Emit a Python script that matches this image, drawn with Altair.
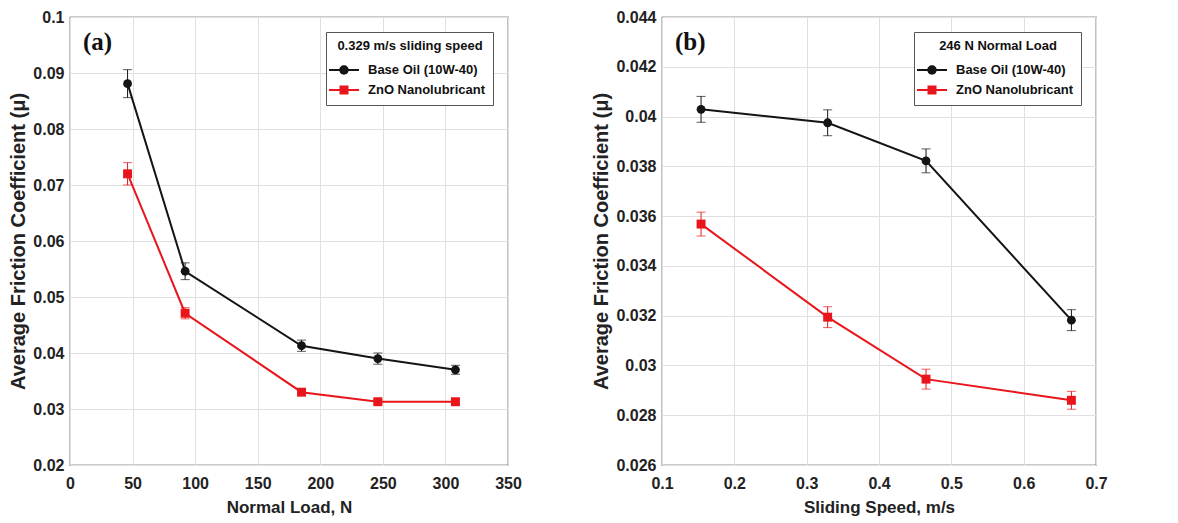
import altair as alt
import pandas as pd

series = ["Base Oil (10W-40)", "ZnO Nanolubricant"]
colors = ["#141414", "#e8161c"]
shapes = ["circle", "square"]
marker_sizes = [78, 80]

# Panel (a)
load_n = [46, 92, 185, 246, 308]
a_base = [0.0881, 0.0546, 0.0413, 0.0390, 0.0370]
a_base_err = [0.0025, 0.0015, 0.0010, 0.0010, 0.0008]
a_zno = [0.0720, 0.0471, 0.0330, 0.0313, 0.0313]
a_zno_err = [0.0020, 0.0010, 0.0005, 0.0004, 0.0004]

# Panel (b)
speed = [0.154, 0.329, 0.465, 0.666]
b_base = [0.04029, 0.03975, 0.03822, 0.03182]
b_base_err = [0.00052, 0.00052, 0.00048, 0.00042]
b_zno = [0.03568, 0.03194, 0.02945, 0.02860]
b_zno_err = [0.00048, 0.00042, 0.00040, 0.00036]

a_xticks = [0, 50, 100, 150, 200, 250, 300, 350]
a_yticks = [0.02, 0.03, 0.04, 0.05, 0.06, 0.07, 0.08, 0.09, 0.1]
b_xticks = [0.1, 0.2, 0.3, 0.4, 0.5, 0.6, 0.7]
b_yticks = [0.026, 0.028, 0.03, 0.032, 0.034, 0.036, 0.038, 0.04, 0.042, 0.044]


def make_df(xs, base, base_err, zno, zno_err):
    rows = []
    for x, v, e in zip(xs, base, base_err):
        rows.append({"x": x, "y": v, "lo": v - e, "hi": v + e, "series": series[0]})
    for x, v, e in zip(xs, zno, zno_err):
        rows.append({"x": x, "y": v, "lo": v - e, "hi": v + e, "series": series[1]})
    return pd.DataFrame(rows)


# legend glyphs: line segment with the series marker in the middle
circle_path = ("M-1.5,-0.1H-0.45V0.1H-1.5Z M0.45,-0.1H1.5V0.1H0.45Z "
               "M0.47,0A0.47,0.47,0,1,1,-0.47,0A0.47,0.47,0,1,1,0.47,0Z")
square_path = ("M-1.5,-0.1H-0.44V0.1H-1.5Z M0.44,-0.1H1.5V0.1H0.44Z "
               "M-0.45,-0.45H0.45V0.45H-0.45Z")

FONT = "Liberation Sans"
YTITLE = "Average Friction Coefficient (μ)"


def panel(df, xticks, yticks, xdom, ydom, xtitle, xfmt, label, legend_title, w):
    xenc = alt.X("x:Q", scale=alt.Scale(domain=xdom, nice=False),
                 axis=alt.Axis(values=xticks, title=xtitle, format=xfmt))
    yenc = alt.Y("y:Q", scale=alt.Scale(domain=ydom, nice=False, zero=False),
                 axis=alt.Axis(values=yticks, title=YTITLE, format="~g"))
    base = alt.Chart(df)
    layers = []
    for s, c, sh, sz in zip(series, colors, shapes, marker_sizes):
        sub = base.transform_filter(alt.datum.series == s)
        layers.append(sub.mark_line(strokeWidth=2, color=c).encode(x=xenc, y=yenc))
        layers.append(sub.mark_errorbar(ticks={"size": 9, "thickness": 1}, thickness=1, color=c).encode(
            x="x:Q", y=alt.Y("lo:Q", title=YTITLE), y2="hi:Q"))
        layers.append(sub.mark_point(filled=True, shape=sh, size=sz, opacity=1, color=c).encode(
            x="x:Q", y="y:Q"))
    leg = base.mark_point(filled=True, opacity=0).encode(
        x="x:Q", y="y:Q",
        color=alt.Color("series:N", scale=alt.Scale(domain=series, range=colors),
                        legend=alt.Legend(title=legend_title)),
        shape=alt.Shape("series:N", scale=alt.Scale(domain=series, range=[circle_path, square_path]),
                        legend=alt.Legend(title=legend_title)),
    )
    layers.append(leg)
    return alt.layer(*layers).properties(
        width=w, height=448,
        title=alt.TitleParams(text=label, anchor="start", frame="group", dx=13, offset=-46,
                              font="Liberation Serif", fontSize=25, fontWeight="bold", color="#111"),
    )


dfa = make_df(load_n, a_base, a_base_err, a_zno, a_zno_err)
dfb = make_df(speed, b_base, b_base_err, b_zno, b_zno_err)

pa = panel(dfa, a_xticks, a_yticks, [0, 350], [0.02, 0.1], "Normal Load, N", "d", "(a)",
           "0.329 m/s sliding speed", 438)
pb = panel(dfb, b_xticks, b_yticks, [0.1, 0.7], [0.026, 0.044], "Sliding Speed, m/s", "~g", "(b)",
           "246 N Normal Load", 434)

chart = alt.hconcat(pa, pb, spacing=69).resolve_scale(
    color="independent", shape="independent"
).resolve_legend(
    color="independent", shape="independent"
).configure(
    font=FONT, padding=0,
).configure_view(stroke="#333", strokeWidth=1.2).configure_axis(
    labelFont=FONT, labelFontSize=16, labelFontWeight="bold", labelColor="#222",
    titleFont=FONT, titleFontWeight="bold", titleColor="#222",
    grid=True, gridColor="#e0e0e0", gridWidth=1, ticks=False, domain=False,
    labelFlush=False,
).configure_axisX(
    labelPadding=10, titlePadding=8, titleFontSize=17,
).configure_axisY(
    labelPadding=6, titlePadding=4, titleFontSize=20,
).configure_legend(
    orient="top-right", offset=15, strokeColor="#555", fillColor="white",
    padding=8, titleFont=FONT, titleFontSize=13, titleFontWeight="bold", titleColor="#111",
    titleAnchor="middle",
    labelFont=FONT, labelFontSize=13, labelFontWeight="bold", labelColor="#111",
    symbolSize=400, symbolStrokeWidth=0, symbolOpacity=1, rowPadding=3, titlePadding=7,
    labelOffset=14, cornerRadius=0, labelLimit=300,
)

chart.save("out.html", embed_options={"renderer": "svg", "actions": False})
